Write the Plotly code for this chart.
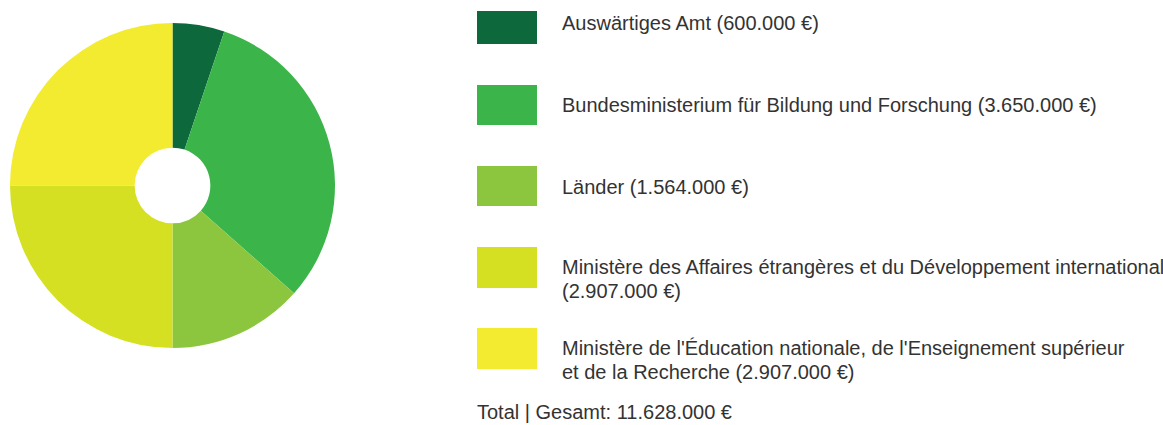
import plotly.graph_objects as go

labels = [
    "Auswärtiges Amt",
    "Bundesministerium für Bildung und Forschung",
    "Länder",
    "Ministère des Affaires étrangères et du Développement international",
    "Ministère de l'Éducation nationale, de l'Enseignement supérieur et de la Recherche",
]
values = [600000, 3650000, 1564000, 2907000, 2907000]
colors = ["#0d693b", "#3bb54a", "#8cc63f", "#d6e022", "#f2eb2f"]
legend_texts = [
    "Auswärtiges Amt (600.000 €)",
    "Bundesministerium für Bildung und Forschung (3.650.000 €)",
    "Länder (1.564.000 €)",
    "Ministère des Affaires étrangères et du Développement international<br>(2.907.000 €)",
    "Ministère de l'Éducation nationale, de l'Enseignement supérieur<br>et de la Recherche (2.907.000 €)",
]
total_text = "Total | Gesamt: 11.628.000 €"

W, H = 1163, 425

fig = go.Figure(go.Pie(
    labels=labels, values=values, sort=False, direction="clockwise", rotation=0,
    hole=0.233, marker=dict(colors=colors, line=dict(width=0)),
    textinfo="none", showlegend=False,
    domain=dict(x=[10 / W, 335 / W], y=[1 - 348 / H, 1 - 23 / H]),
))

# legend swatches (pixel boxes -> paper)
boxes = [(11, 44), (85, 125), (166, 206), (247, 288), (328, 369)]
text_y = [23, 105, 187, 267, 348]
line_gap = 23.5
font = dict(family="Liberation Sans, Arial, sans-serif", size=20, color="#333333")
for (t, b), ty, txt, c in zip(boxes, text_y, legend_texts, colors):
    fig.add_shape(type="rect", xref="paper", yref="paper",
                  x0=477 / W, x1=537 / W, y0=1 - b / H, y1=1 - t / H,
                  fillcolor=c, line=dict(width=0))
    for i, line in enumerate(txt.split("<br>")):
        fig.add_annotation(xref="paper", yref="paper", x=560 / W,
                           y=1 - (ty + i * line_gap) / H,
                           xanchor="left", yanchor="middle", align="left",
                           text=line, showarrow=False, font=font)
fig.add_annotation(xref="paper", yref="paper", x=475 / W, y=1 - 412 / H,
                   xanchor="left", yanchor="middle", align="left",
                   text=total_text, showarrow=False, font=font)

fig.update_layout(width=W, height=H, margin=dict(l=0, r=0, t=0, b=0),
                  paper_bgcolor="white", plot_bgcolor="white")
fig.write_html("out.html", config={"displayModeBar": False},
               post_script="document.body.style.margin='0';")
